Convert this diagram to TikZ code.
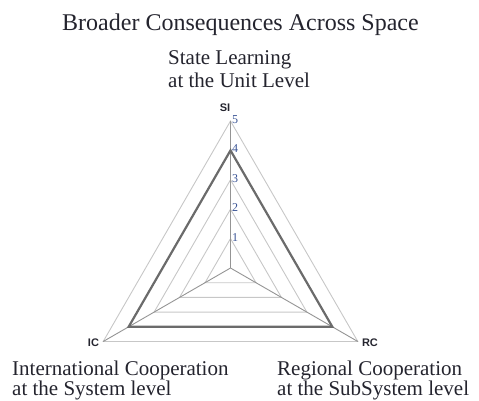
\documentclass[tikz,border=0pt]{standalone}
\usepackage{fontspec}
\setmainfont{Liberation Serif}
\newfontfamily\axisfont{Liberation Sans}
\usetikzlibrary{calc}
\definecolor{gridgray}{gray}{0.78}
\definecolor{axisgray}{gray}{0.58}
\definecolor{seriesgray}{gray}{0.42}
\definecolor{ticknum}{rgb}{0.22,0.32,0.58}
\definecolor{labeltext}{rgb}{0.14,0.14,0.18}
\tikzset{
  gridline/.style={draw=gridgray, line width=0.9pt},
  axisline/.style={draw=axisgray, line width=0.9pt},
  seriesline/.style={draw=seriesgray, line width=2.2pt},
  axislabel/.style={font=\axisfont\bfseries\fontsize{11}{11}\selectfont, text=labeltext, inner sep=0pt},
  ticklabel/.style={font=\fontsize{12}{12}\selectfont, text=ticknum, inner sep=0pt, anchor=west},
  caption/.style={text=labeltext, align=left, inner sep=0pt, anchor=north west}
}

\begin{document}
\begin{tikzpicture}[x=1pt,y=1pt]
  \useasboundingbox (0,0) rectangle (479,400);
  \coordinate (O) at (230.5,132);
  \coordinate (SI) at ($(O)+(90:147)$);
  \coordinate (IC) at ($(O)+(210:147)$);
  \coordinate (RC) at ($(O)+(330:147)$);

  % grid
  \foreach \k in {1,...,5}{
    \draw[gridline] ($(O)!\k/5!(SI)$) -- ($(O)!\k/5!(RC)$) -- ($(O)!\k/5!(IC)$) -- cycle;
  }
  \draw[axisline] (O) -- (SI);
  \draw[axisline] (O) -- (IC);
  \draw[axisline] (O) -- (RC);

  % series
  \draw[seriesline] ($(O)!0.8!(SI)$) -- ($(O)!0.8!(RC)$) -- ($(O)!0.8!(IC)$) -- cycle;

  \foreach \k in {1,...,5}{
    \node[ticklabel] (tick\k) at ($(O)!\k/5!(SI)+(1.5,1.5)$) {\k};
  }

  \node[axislabel, anchor=south east] (si) at ($(SI)+(0,9)$) {SI};
  \node[axislabel, anchor=east] (ic) at ($(IC)+(-4,-1.5)$) {IC};
  \node[axislabel, anchor=west] (rc) at ($(RC)+(4,-1.5)$) {RC};

  \node[font=\fontsize{24}{24}\selectfont, text=labeltext, anchor=base] (title) at (240.5,370) {Broader Consequences Across Space};
  \node[caption, font=\fontsize{21}{23}\selectfont] (silabel) at (168,350) {State Learning\\at the Unit Level};
  \node[caption, font=\fontsize{21}{18.5}\selectfont] (iclabel) at (12,39.5) {International Cooperation\\at the System level};
  \node[caption, font=\fontsize{21}{18.5}\selectfont] (rclabel) at (277,39.5) {Regional Cooperation\\at the SubSystem level};
\end{tikzpicture}
\end{document}
